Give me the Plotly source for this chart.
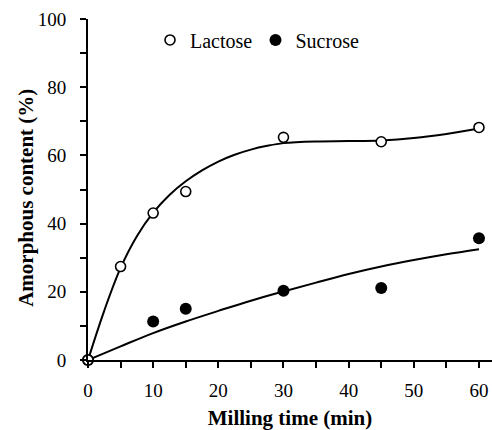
import plotly.graph_objects as go

# Measured data
time_pts = [0, 5, 10, 15, 30, 45, 60]
lactose = [0, 27.4, 43.1, 49.4, 65.3, 64.0, 68.2]
sucrose_time = [0, 10, 15, 30, 45, 60]
sucrose = [0, 11.3, 15.0, 20.3, 21.1, 35.7]

# Fitted curves
lac_fit_t = [0, 2.5, 5, 7.5, 10, 12.5, 15, 17.5, 20, 22.5, 25, 27.5, 30, 35, 40, 45, 50, 55, 60]
lac_fit_v = [0, 14.5, 27.0, 36.3, 43.2, 48.4, 52.4, 55.6, 58.2, 60.2, 61.7, 62.8, 63.6, 64.1, 64.2, 64.4, 65.1, 66.3, 67.9]
suc_fit_t = [0, 5, 10, 15, 20, 25, 30, 35, 40, 45, 50, 55, 60]
suc_fit_v = [0, 4.0, 7.9, 11.3, 14.4, 17.4, 20.1, 22.7, 25.2, 27.4, 29.3, 31.0, 32.5]

FONT = "Liberation Serif"

fig = go.Figure()
fig.add_trace(go.Scatter(x=lac_fit_t, y=lac_fit_v, mode="lines", line=dict(color="black", width=2, shape="spline"),
                         showlegend=False, hoverinfo="skip", cliponaxis=False))
fig.add_trace(go.Scatter(x=suc_fit_t, y=suc_fit_v, mode="lines", line=dict(color="black", width=2, shape="spline"),
                         showlegend=False, hoverinfo="skip", cliponaxis=False))
fig.add_trace(go.Scatter(x=sucrose_time, y=sucrose, mode="markers", name="Sucrose",
                         marker=dict(symbol="circle", size=12, color="black", line=dict(width=0)),
                         legend="legend2", cliponaxis=False))
fig.add_trace(go.Scatter(x=time_pts, y=lactose, mode="markers", name="Lactose",
                         marker=dict(symbol="circle", size=10, color="white", line=dict(color="black", width=1.6)),
                         legend="legend", cliponaxis=False))

axis_common = dict(showline=True, linewidth=2, linecolor="black", ticks="outside", ticklen=6, tickwidth=2,
                   tickcolor="black", showgrid=False, zeroline=False,
                   tickfont=dict(family=FONT, size=19, color="black"))

fig.update_layout(
    width=492, height=430,
    margin=dict(l=88, r=0, t=19, b=70),
    plot_bgcolor="white", paper_bgcolor="white",
    font=dict(family=FONT, color="black"),
    xaxis=dict(range=[0, 62], tickmode="array", tickvals=[0, 10, 20, 30, 40, 50, 60],
               minor=dict(tickvals=[5, 15, 25, 35, 45, 55], ticks="outside", ticklen=6, tickwidth=2, tickcolor="black"),
               title=dict(text="<b>Milling time (min)</b>", font=dict(family=FONT, size=21, color="black"), standoff=12),
               ticklabelstandoff=6,
               **axis_common),
    yaxis=dict(range=[0, 100], tickmode="array", tickvals=[0, 20, 40, 60, 80, 100],
               minor=dict(tickvals=[10, 30, 50, 70, 90], ticks="outside", ticklen=6, tickwidth=2, tickcolor="black"),
               ticklabelstandoff=10,
               **axis_common),
    legend=dict(x=0.1535, y=0.9385, xanchor="left", yanchor="middle", bgcolor="rgba(0,0,0,0)",
                font=dict(family=FONT, size=20, color="black")),
    legend2=dict(x=0.4146, y=0.9385, xanchor="left", yanchor="middle", bgcolor="rgba(0,0,0,0)",
                 font=dict(family=FONT, size=20, color="black")),
    annotations=[dict(text="<b>Amorphous content (%)</b>", textangle=-90, xref="paper", yref="paper",
                      x=-(88 - 26) / 404, y=(360.3 - 198) / 341.3, xanchor="center", yanchor="middle",
                      showarrow=False, font=dict(family=FONT, size=21, color="black"))],
)

fig.write_html("out.html")
